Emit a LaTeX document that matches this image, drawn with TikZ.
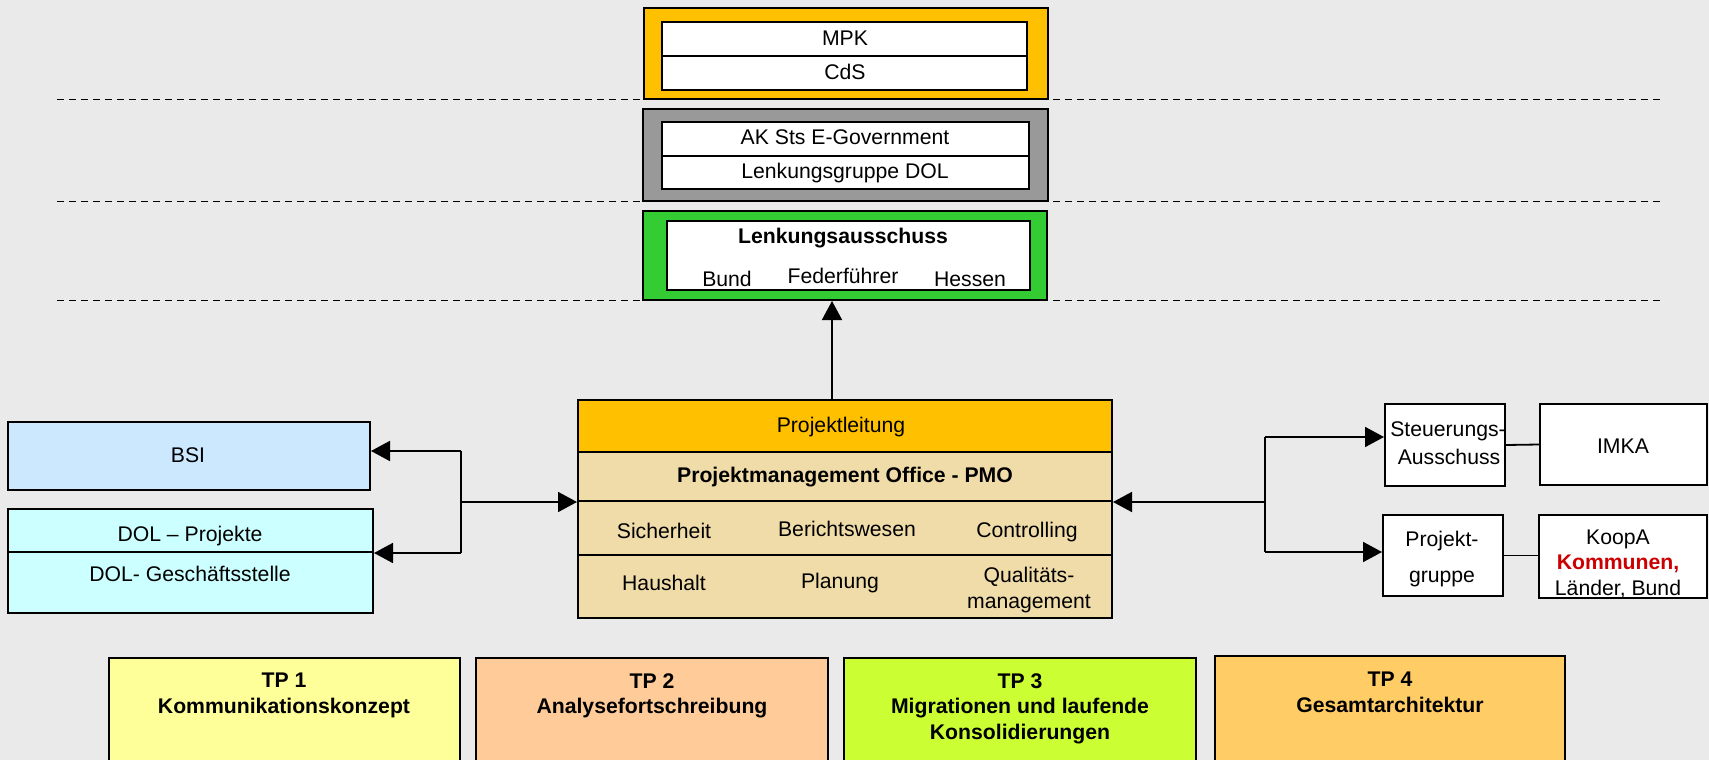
\documentclass[tikz,border=0pt]{standalone}
\usepackage{fontspec}
\setmainfont{Liberation Sans}
\usetikzlibrary{arrows.meta,fit,calc}
\definecolor{bg}{HTML}{EAEAEA}
\definecolor{gold}{HTML}{FFC000}
\definecolor{midgray}{HTML}{999999}
\definecolor{lgreen}{HTML}{33CC33}
\definecolor{wheat}{HTML}{F0DCA8}
\definecolor{bsiblue}{HTML}{CCE8FF}
\definecolor{dolcyan}{HTML}{CCFFFF}
\definecolor{tpyellow}{HTML}{FFFF99}
\definecolor{tppeach}{HTML}{FFCC99}
\definecolor{tplime}{HTML}{CCFF33}
\definecolor{tporange}{HTML}{FFCC66}
\definecolor{kred}{HTML}{CC0000}
\begin{document}
\begin{tikzpicture}[x=0.5pt,y=-0.5pt,
 box/.style={draw=black, line width=1pt, inner sep=0pt},
 lbl/.style={font=\fontsize{10.6}{12.8}\selectfont, inner sep=0pt, align=center},
 blbl/.style={font=\fontsize{10.6}{12.8}\selectfont\bfseries, inner sep=0pt, align=center},
 arr/.style={line width=0.9pt, -{Triangle[length=9.5pt,width=10pt]}},
 conn/.style={line width=0.9pt},
 sep/.style={dash pattern=on 3.5pt off 2.5pt, line width=0.5pt}
]
\clip (0,0) rectangle (1709,760);
\fill[bg] (0,0) rectangle (1709,760);

% dashed level separators
\draw[sep] (57,99) -- (1660,99);
\draw[sep] (57,201) -- (1660,201);
\draw[sep] (57,300) -- (1660,300);

% top: MPK / CdS
\node[box, fill=gold, fit={(644,8)(1048,99)}] (mpkouter) {};
\node[box, fill=white, fit={(662,22)(1027,56)}] (mpk) {};
\node[box, fill=white, fit={(662,56)(1027,90)}] (cds) {};
\node[lbl] (tmpk) at (845,38) {MPK};
\node[lbl] (tcds) at (845,72) {CdS};

% AK Sts / Lenkungsgruppe
\node[box, fill=midgray, fit={(643,109)(1048,201)}] (akouter) {};
\node[box, fill=white, fit={(662,122)(1029,156)}] (ak) {};
\node[box, fill=white, fit={(662,156)(1029,189)}] (lg) {};
\node[lbl] (tak) at (845,137) {AK Sts E-Government};
\node[lbl] (tlg) at (845,173) {Lenkungsgruppe DOL};

% Lenkungsausschuss
\node[box, fill=lgreen, fit={(643,211)(1047,300)}] (green) {};
\node[box, fill=white, fit={(667,221)(1030,290)}] (la) {};
\node[blbl] (tla) at (843,238) {Lenkungsausschuss};
\node[lbl] (tbund) at (727,279) {Bund};
\node[lbl] (tfed) at (843,276) {Federführer};
\node[lbl] (thes) at (970,279) {Hessen};

% PMO block
\node[box, fill=gold, fit={(578,400)(1112,452)}] (pl) {};
\node[box, fill=wheat, fit={(578,452)(1112,501)}] (pmot) {};
\node[box, fill=wheat, fit={(578,501)(1112,555)}] (row2) {};
\node[box, fill=wheat, fit={(578,555)(1112,618)}] (row3) {};
\node[box, fit={(578,400)(1112,618)}] (pmo) {};
\node[lbl] (tpl) at (841,427) {Projektleitung};
\node[blbl] (tpmo) at (845,477) {Projektmanagement Office - PMO};
\node[lbl] (tsich) at (664,531) {Sicherheit};
\node[lbl] (tber) at (847,529) {Berichtswesen};
\node[lbl] (tcon) at (1027,532) {Controlling};
\node[lbl] (thh) at (664,583) {Haushalt};
\node[lbl] (tplan) at (840,583) {Planung};
\node[lbl] (tqual) at (1029,590) {Qualitäts-\\management};

% left boxes
\node[box, fill=bsiblue, fit={(8,422)(370,490)}] (bsi) {};
\node[lbl] (tbsi) at (188,455) {BSI};
\node[box, fill=dolcyan, fit={(8,509)(373,552)}] (dol1) {};
\node[box, fill=dolcyan, fit={(8,552)(373,613)}] (dol2) {};
\node[lbl] (tdol1) at (190,536) {DOL – Projekte};
\node[lbl] (tdol2) at (190,574) {DOL- Geschäftsstelle};

% right boxes
\node[box, fill=white, fit={(1385,404)(1505,486)}] (steuer) {};
\node[lbl] (tst1) at (1448,431) {Steuerungs-};
\node[lbl] (tst2) at (1449,457) {Ausschuss};
\node[box, fill=white, fit={(1540,404)(1707,485)}] (imka) {};
\node[lbl] (timka) at (1623,446) {IMKA};
\node[box, fill=white, fit={(1383,515)(1503,596)}] (pg) {};
\node[lbl] (tpg1) at (1442,541) {Projekt-};
\node[lbl] (tpg2) at (1442,579) {gruppe};
\node[box, fill=white, fit={(1539,515)(1707,598)}] (koopa) {};
\node[lbl, font=\fontsize{10.6}{12.8}\selectfont] (tkoopa) at (1618,564) {KoopA\\{\color{kred}\bfseries Kommunen,}\\Länder, Bund};

% connectors
\coordinate (ux) at (832,0);
\draw[arr] (ux |- pl.north) -- (ux |- green.south);

\coordinate (jl) at (461,0);
\coordinate (bsiin) at ([yshift=2.5pt]bsi.east);
\draw[arr] (jl |- pmot.south west) -- (pmot.south west);
\draw[conn] (jl |- bsiin) -- (jl |- dol1.south east);
\draw[arr] (jl |- bsiin) -- (bsiin);
\draw[arr] (jl |- dol1.south east) -- (dol1.south east);

\coordinate (jr) at (1265,0);
\coordinate (stin) at ([yshift=4pt]steuer.west);
\coordinate (pgin) at ([yshift=1.75pt]pg.west);
\draw[arr] (jr |- pmot.south east) -- (pmot.south east);
\draw[conn] (jr |- stin) -- (jr |- pgin);
\draw[arr] (jr |- stin) -- (stin);
\draw[arr] (jr |- pgin) -- (pgin);
\draw[conn] (steuer.east) -- (imka.west);
\draw[conn] (pg.east) -- (pg.east -| koopa.west);

% TP boxes
\node[box, fill=tpyellow, fit={(109,658)(460,800)}] (tp1) {};
\node[box, fill=tppeach, fit={(476,658)(828,800)}] (tp2) {};
\node[box, fill=tplime, fit={(844,658)(1196,800)}] (tp3) {};
\node[box, fill=tporange, fit={(1215,656)(1565,800)}] (tp4) {};
\node[blbl, anchor=north] (ttp1) at (284,673) {TP 1\\Kommunikationskonzept};
\node[blbl, anchor=north] (ttp2) at (652,673) {TP 2\\Analysefortschreibung};
\node[blbl, anchor=north] (ttp3) at (1020,673) {TP 3\\Migrationen und laufende\\Konsolidierungen};
\node[blbl, anchor=north] (ttp4) at (1390,672) {TP 4\\Gesamtarchitektur};
\end{tikzpicture}
\end{document}
